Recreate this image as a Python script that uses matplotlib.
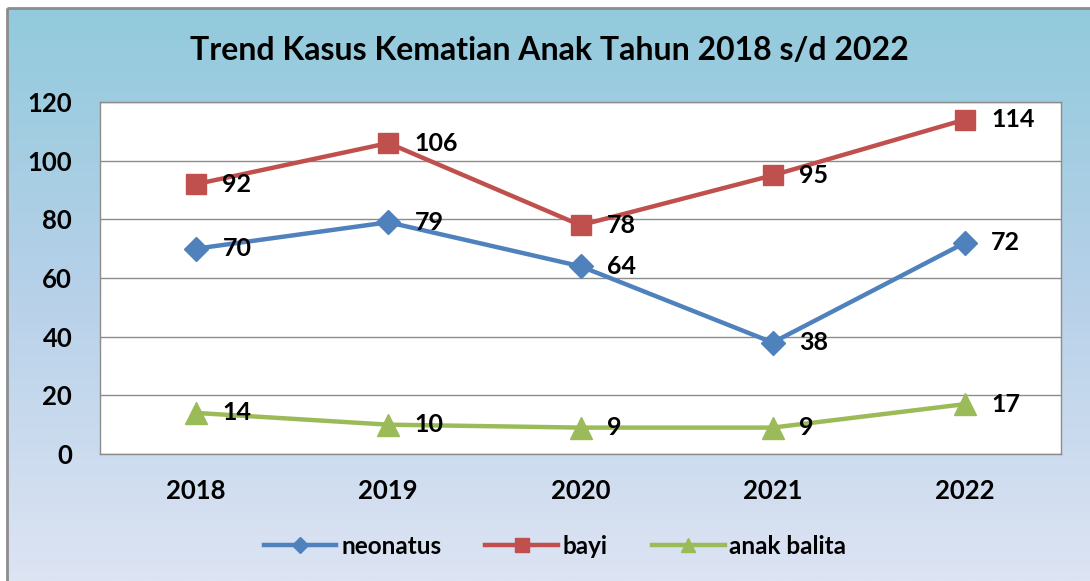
import numpy as np
import matplotlib.pyplot as plt
from matplotlib.colors import LinearSegmentedColormap
from matplotlib.patches import Rectangle

years = ['2018', '2019', '2020', '2021', '2022']
neonatus = [70, 79, 64, 38, 72]
bayi = [92, 106, 78, 95, 114]
anak_balita = [14, 10, 9, 9, 17]

plt.rcParams['font.family'] = ['Lato', 'DejaVu Sans']
plt.rcParams['font.weight'] = 'bold'

fig = plt.figure(figsize=(10.9, 5.81), dpi=100)
W, H = 1090, 581

# gradient background panel (chart area), with thin gray border
bg = fig.add_axes([0, 0, 1, 1])
bg.set_xlim(0, W)
bg.set_ylim(H, 0)
bg.axis('off')
grad = np.linspace(0, 1, 256).reshape(-1, 1)
cmap = LinearSegmentedColormap.from_list('bg', ['#92cadc', '#b7d1e9', '#dde4f3'])
bg.imshow(grad, cmap=cmap, aspect='auto', extent=[7, W, H, 8], zorder=0)
bg.add_patch(Rectangle((7, 8), W, H, fill=False, edgecolor='#8c8c8c', lw=2, zorder=1))

ax = fig.add_axes([100 / W, 1 - 454 / H, (1061 - 100) / W, (454 - 102) / H])
ax.set_facecolor('white')
x = np.arange(len(years))

series = [
    ('neonatus', neonatus, '#4f81bd', 'D', 12),
    ('bayi', bayi, '#c0504d', 's', 15),
    ('anak balita', anak_balita, '#9bbb59', '^', 16),
]
for name, vals, col, mk, ms in series:
    ax.plot(x, vals, color=col, lw=3.2, marker=mk, markersize=ms,
            markeredgecolor=col, label=name, zorder=3, clip_on=False)
    for xi, v in zip(x, vals):
        ax.annotate(str(v), (xi, v), xytext=(19, 0), textcoords='offset points',
                    ha='left', va='center', fontsize=18, fontweight='bold', zorder=4)

ax.set_xlim(-0.5, 4.5)
ax.set_ylim(0, 120)
ax.set_yticks(range(0, 121, 20))
ax.set_xticks(x)
ax.set_xticklabels(years)
ax.tick_params(axis='both', length=0, labelsize=18.5)
ax.tick_params(axis='y', pad=20)
ax.tick_params(axis='x', pad=18)
for lbl in ax.get_xticklabels() + ax.get_yticklabels():
    lbl.set_fontweight('bold')
ax.grid(axis='y', color='#8c8c8c', lw=1)
ax.set_axisbelow(True)
for s in ax.spines.values():
    s.set_color('#8c8c8c')
    s.set_linewidth(1)

fig.text(549 / W, 1 - 50 / H, 'Trend Kasus Kematian Anak Tahun 2018 s/d 2022',
         ha='center', va='center', fontsize=23, fontweight='bold')

handles, labels = ax.get_legend_handles_labels()
leg = fig.legend(handles, labels, loc='center', bbox_to_anchor=(555 / W, 1 - 546 / H),
                 ncol=3, frameon=False, fontsize=17.5, handlelength=3.0,
                 columnspacing=1.8, handletextpad=0.2, markerscale=0.65)
for t in leg.get_texts():
    t.set_fontweight('bold')

fig.savefig('out.png', dpi=100)
